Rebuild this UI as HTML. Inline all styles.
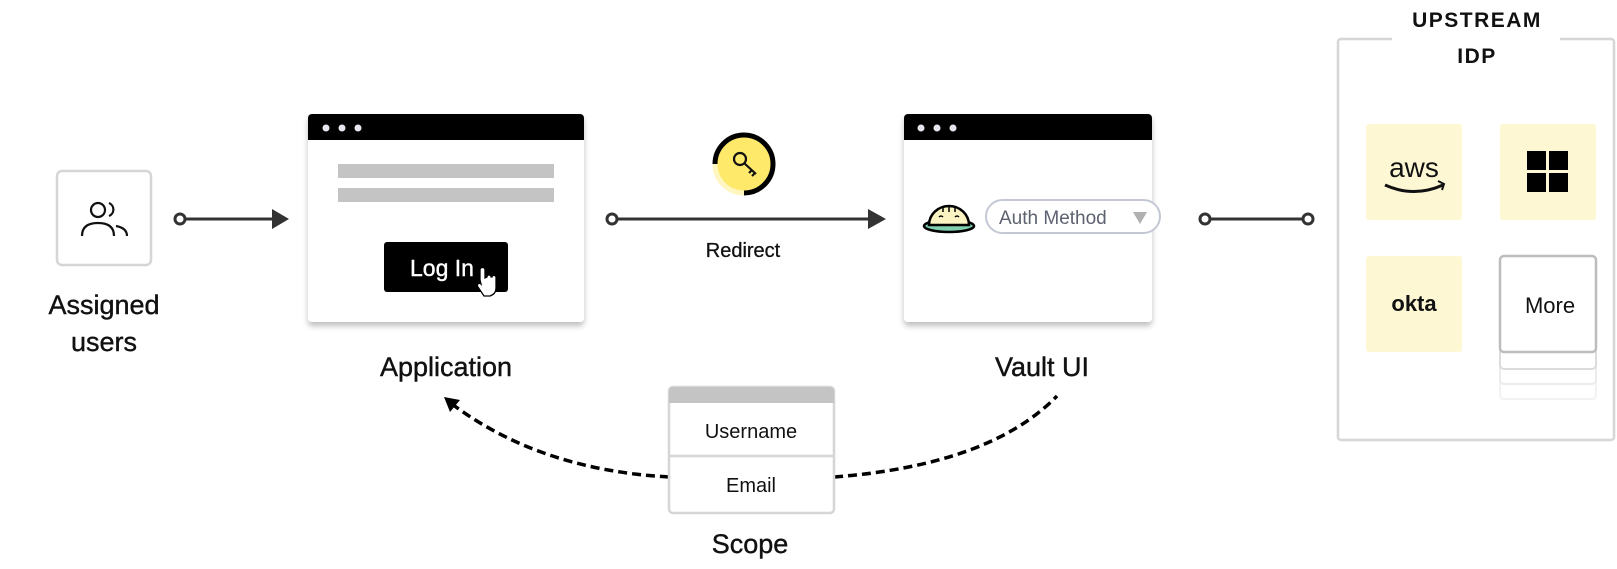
<!DOCTYPE html>
<html><head><meta charset="utf-8"><style>
html,body{margin:0;padding:0;background:#fff;}
body{width:1617px;height:564px;overflow:hidden;font-family:"Liberation Sans",sans-serif;}
</style></head><body>
<svg width="1617" height="564" viewBox="0 0 1617 564" xmlns="http://www.w3.org/2000/svg" font-family="Liberation Sans, sans-serif">
<defs>
<filter id="sh" x="-10%" y="-10%" width="120%" height="130%"><feDropShadow dx="0" dy="4" stdDeviation="3" flood-color="#000" flood-opacity="0.25"/></filter>
</defs>
<!-- users -->
<rect x="57" y="171" width="94" height="94" rx="5" fill="#fff" stroke="#d6d6d6" stroke-width="2.5"/>
<g fill="none" stroke="#111" stroke-width="2.2">
<circle cx="98" cy="210" r="7"/>
<path d="M82 236 q0-13 16-13 q16 0 16 13"/>
<path d="M109 203 a7 7 0 0 1 0 13"/>
<path d="M116 226 q11 2 11 10"/>
</g>
<text x="104" y="314" font-size="27" text-anchor="middle" fill="#111" stroke="#111" stroke-width="0.4">Assigned</text>
<text x="104" y="351" font-size="27" text-anchor="middle" fill="#111" stroke="#111" stroke-width="0.4">users</text>
<!-- connector 1 -->
<line x1="185" y1="219" x2="272" y2="219" stroke="#333" stroke-width="3"/>
<circle cx="180" cy="219" r="5" fill="#fff" stroke="#333" stroke-width="3"/>
<polygon points="272,209 289,219 272,229" fill="#333"/>
<!-- app window -->
<g filter="url(#sh)"><rect x="308" y="114" width="276" height="208" rx="4" fill="#fff"/></g>
<path d="M308 140 V118 a4 4 0 0 1 4-4 H580 a4 4 0 0 1 4 4 V140 Z" fill="#000"/>
<circle cx="326" cy="128" r="3.5" fill="#e6e6ee"/><circle cx="342" cy="128" r="3.5" fill="#e6e6ee"/><circle cx="358" cy="128" r="3.5" fill="#e6e6ee"/>
<rect x="338" y="164" width="216" height="14" fill="#c4c4c4"/>
<rect x="338" y="188" width="216" height="14" fill="#c4c4c4"/>
<rect x="384" y="242" width="124" height="50" rx="3" fill="#000"/>
<text x="410" y="276" font-size="23" fill="#fff" stroke="#fff" stroke-width="0.4">Log In</text>
<path d="M480 280 v-10 a2.5 2.5 0 0 1 5 0 v8 l2-1 a2 2 0 0 1 4 0 l1 0 a2 2 0 0 1 4 1 v10 q0 6-6 8 h-6 l-6-9 a2 2 0 0 1 3-3 z" fill="#fff" stroke="#000" stroke-width="1.3"/>
<text x="446" y="376" font-size="27" text-anchor="middle" fill="#111" stroke="#111" stroke-width="0.4">Application</text>
<!-- key -->
<circle cx="744" cy="164" r="29" fill="#ffe96b"/>
<path d="M744 135 a29 29 0 0 1 0 58" fill="none" stroke="#000" stroke-width="5"/>
<path d="M715 164 a29 29 0 0 0 29 29" fill="none" stroke="#fff6c0" stroke-width="5"/>
<path d="M744 135 a29 29 0 0 0 -29 29" fill="none" stroke="#000" stroke-width="5"/>
<g fill="none" stroke="#111" stroke-width="2.2"><circle cx="740" cy="159" r="6"/><path d="M744 163 l12 11 m-4-4 l-3 3 m6 0 l-3 3"/></g>
<!-- redirect -->
<line x1="617" y1="219" x2="868" y2="219" stroke="#333" stroke-width="3"/>
<circle cx="612" cy="219" r="5" fill="#fff" stroke="#333" stroke-width="3"/>
<polygon points="868,209 886,219 868,229" fill="#333"/>
<text x="743" y="257" font-size="20" text-anchor="middle" fill="#111" stroke="#111" stroke-width="0.3">Redirect</text>
<!-- vault window -->
<g filter="url(#sh)"><rect x="904" y="114" width="248" height="208" rx="4" fill="#fff"/></g>
<path d="M904 140 V118 a4 4 0 0 1 4-4 H1148 a4 4 0 0 1 4 4 V140 Z" fill="#000"/>
<circle cx="921" cy="128" r="3.5" fill="#e6e6ee"/><circle cx="937" cy="128" r="3.5" fill="#e6e6ee"/><circle cx="953" cy="128" r="3.5" fill="#e6e6ee"/>
<ellipse cx="949" cy="226" rx="25" ry="6" fill="#7fcfb0" stroke="#000" stroke-width="2.5"/>
<path d="M929 225 a20 19 0 0 1 40 0 z" fill="#fbf3c2" stroke="#000" stroke-width="2.5"/>
<path d="M943 208 v4 M949 207 v5 M955 208 v4" stroke="#000" stroke-width="1.5"/>
<path d="M939 217 q2-2 4 0 M955 217 q2-2 4 0" fill="none" stroke="#000" stroke-width="1.5"/>
<rect x="986" y="200" width="174" height="33" rx="16.5" fill="#fff" stroke="#c3c8d4" stroke-width="2"/>
<text x="999" y="224" font-size="19" fill="#5d6270">Auth Method</text>
<polygon points="1133,212 1147,212 1140,224" fill="#b0b0b0"/>
<text x="1042" y="376" font-size="27" text-anchor="middle" fill="#111" stroke="#111" stroke-width="0.4">Vault UI</text>
<!-- connector 3 -->
<line x1="1210" y1="219" x2="1303" y2="219" stroke="#333" stroke-width="3"/>
<circle cx="1205" cy="219" r="5" fill="#fff" stroke="#333" stroke-width="3"/>
<circle cx="1308" cy="219" r="5" fill="#fff" stroke="#333" stroke-width="3"/>
<!-- IdP -->
<path d="M1392 39 H1341 a3 3 0 0 0 -3 3 V437 a3 3 0 0 0 3 3 H1611 a3 3 0 0 0 3-3 V42 a3 3 0 0 0 -3-3 H1560" fill="none" stroke="#d6d6d6" stroke-width="2.5"/>
<text x="1477" y="27" font-size="21" font-weight="bold" text-anchor="middle" letter-spacing="1.5" fill="#111">UPSTREAM</text>
<text x="1477" y="63" font-size="21" font-weight="bold" text-anchor="middle" letter-spacing="1.5" fill="#111">IDP</text>
<rect x="1366" y="124" width="96" height="96" rx="3" fill="#fdf7d4"/>
<text x="1414" y="177" font-size="28" text-anchor="middle" fill="#111">aws</text>
<path d="M1385 185 q29 13 58 0" fill="none" stroke="#111" stroke-width="3"/>
<path d="M1438 181 l6 3 -2 6" fill="none" stroke="#111" stroke-width="2"/>
<rect x="1500" y="124" width="96" height="96" rx="3" fill="#fdf7d4"/>
<rect x="1527" y="151" width="19" height="19" fill="#000"/><rect x="1549" y="151" width="19" height="19" fill="#000"/>
<rect x="1527" y="173" width="19" height="19" fill="#000"/><rect x="1549" y="173" width="19" height="19" fill="#000"/>
<rect x="1366" y="256" width="96" height="96" rx="3" fill="#fdf7d4"/>
<text x="1414" y="311" font-size="22" font-weight="bold" text-anchor="middle" fill="#111">okta</text>
<rect x="1500" y="335" width="96" height="64" rx="4" fill="#fff" stroke="#f2f2f2" stroke-width="2"/>
<rect x="1500" y="320" width="96" height="64" rx="4" fill="#fff" stroke="#ebebeb" stroke-width="2"/>
<rect x="1500" y="305" width="96" height="64" rx="4" fill="#fff" stroke="#dcdcdc" stroke-width="2"/>
<rect x="1500" y="256" width="96" height="96" rx="4" fill="#fff" stroke="#bdbdbd" stroke-width="2.5"/>
<text x="1550" y="313" font-size="22" text-anchor="middle" fill="#111">More</text>
<!-- dashed curves -->
<path d="M669 477 Q540 470 452 404" fill="none" stroke="#000" stroke-width="3.5" stroke-dasharray="9 5"/>
<polygon points="444,397 460,400 450,412" fill="#000"/>
<path d="M834 477 Q990 465 1057 396" fill="none" stroke="#000" stroke-width="3.5" stroke-dasharray="9 5"/>
<!-- scope -->
<rect x="669" y="387" width="165" height="126" rx="4" fill="#fff" stroke="#d6d6d6" stroke-width="2.5"/>
<path d="M669 403 V391 a4 4 0 0 1 4-4 H830 a4 4 0 0 1 4 4 V403 Z" fill="#c4c4c4"/>
<line x1="669" y1="456" x2="834" y2="456" stroke="#d6d6d6" stroke-width="2.5"/>
<text x="751" y="438" font-size="20" text-anchor="middle" fill="#111">Username</text>
<text x="751" y="492" font-size="20" text-anchor="middle" fill="#111">Email</text>
<text x="750" y="553" font-size="27" text-anchor="middle" fill="#111" stroke="#111" stroke-width="0.4">Scope</text>
</svg>
</body></html>
